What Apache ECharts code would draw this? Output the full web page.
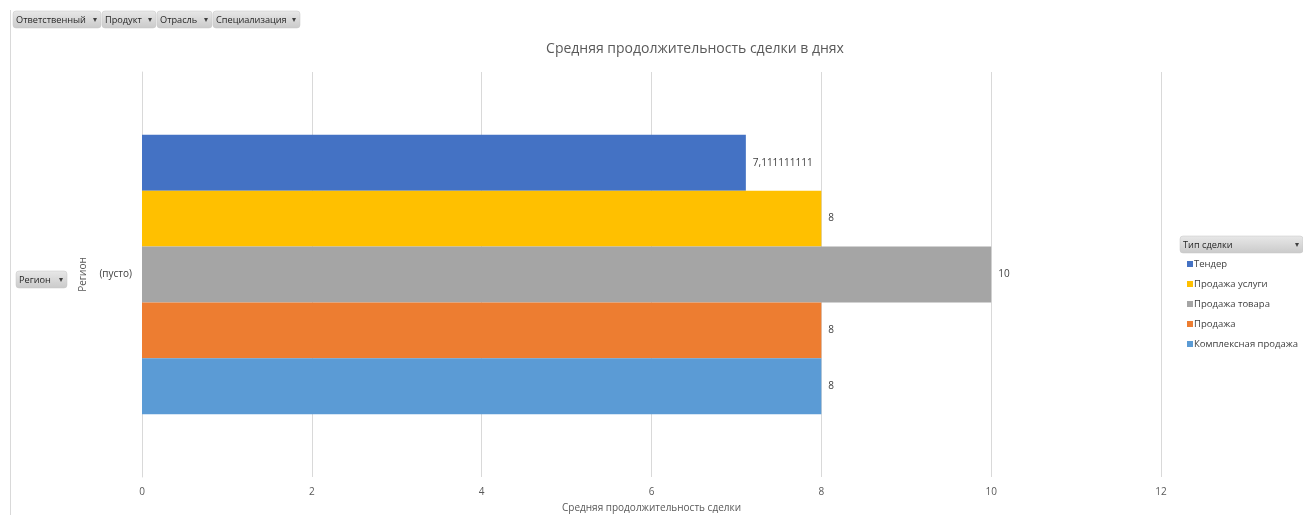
<!DOCTYPE html>
<html><head><meta charset="utf-8">
<script src="https://cdn.jsdelivr.net/npm/echarts@6/dist/echarts.min.js"></script>
<style>html,body{margin:0;padding:0;background:#fff;}#c{width:1303px;height:515px;}</style>
</head><body><div id="c"></div>
<script>
const categories = ['(пусто)'];
const seriesNames = ['Тендер', 'Продажа услуги', 'Продажа товара', 'Продажа', 'Комплексная продажа'];
const seriesValues = [[7.111111111], [8], [10], [8], [8]];
const seriesColors = ['#4472C4', '#FFC000', '#A5A5A5', '#ED7D31', '#5B9BD5'];
const xTicks = [0, 2, 4, 6, 8, 10, 12];
const filterButtons = ['Ответственный', 'Продукт', 'Отрасль', 'Специализация'];
const filterWidths = [88, 54, 55, 87];

const FONT = '"Open Sans", "DejaVu Sans", sans-serif';
const BFONT = '"Open Sans", sans-serif';
const chart = echarts.init(document.getElementById('c'), null, {renderer: 'canvas'});

function grad() {
  return new echarts.graphic.LinearGradient(0, 0, 0, 1, [{offset: 0, color: '#e8e8e8'}, {offset: 1, color: '#cacaca'}]);
}
function button(x, y, w, h, label) {
  return {
    type: 'group', x: x, y: y,
    children: [
      {type: 'rect', shape: {x: 0, y: 0, width: w, height: h, r: 3},
       style: {fill: grad(), stroke: '#c4c4c4', lineWidth: 0.5}},
      {type: 'text', x: 3, y: h / 2 + 0.5, style: {text: label, fontSize: 9.2, fontFamily: BFONT, fill: '#262626', verticalAlign: 'middle'}},
      {type: 'text', x: w - 6, y: h / 2 + 0.5, style: {text: '\u25BE', fontSize: 8, fontFamily: FONT, fill: '#404040', verticalAlign: 'middle', align: 'center'}}
    ]
  };
}

const graphics = [
  {type: 'line', shape: {x1: 10.5, y1: 10, x2: 10.5, y2: 515}, style: {stroke: '#d9d9d9', lineWidth: 1}}
];
let bx = 13;
filterButtons.forEach((t, i) => { graphics.push(button(bx, 11, filterWidths[i], 17, t)); bx += filterWidths[i] + 1; });
graphics.push(button(16, 271, 51, 17, 'Регион'));
graphics.push(button(1180, 236, 123, 17, 'Тип сделки'));

const option = {
  animation: false,
  backgroundColor: '#fff',
  title: {
    text: 'Средняя продолжительность сделки в днях',
    left: 690, top: 37, textAlign: 'center',
    textStyle: {fontSize: 14, fontWeight: 'normal', color: '#595959', fontFamily: FONT}
  },
  legend: {
    orient: 'vertical', left: 1182, top: 254,
    itemWidth: 6, itemHeight: 6, itemGap: 10, icon: 'rect',
    textStyle: {fontSize: 9.5, color: '#404040', fontFamily: FONT, padding: [0, 0, 0, -4]},
    data: seriesNames
  },
  grid: {left: 142, right: 142, top: 72, bottom: 38, containLabel: false, outerBoundsMode: 'none'},
  xAxis: {
    type: 'value', min: 0, max: 12, interval: 2,
    name: 'Средняя продолжительность сделки', nameLocation: 'middle', nameGap: 26,
    nameTextStyle: {fontSize: 10, color: '#595959', fontFamily: FONT},
    axisLine: {show: false}, axisTick: {show: false},
    axisLabel: {fontSize: 10, color: '#595959', fontFamily: FONT, margin: 10},
    splitLine: {lineStyle: {color: '#d9d9d9', width: 1}}
  },
  yAxis: {
    type: 'category', data: categories, inverse: true,
    name: 'Регион', nameLocation: 'middle', nameGap: 46, nameRotate: 90,
    nameTextStyle: {fontSize: 10, color: '#595959', fontFamily: FONT},
    axisLine: {lineStyle: {color: '#d9d9d9'}}, axisTick: {show: false},
    axisLabel: {fontSize: 10, color: '#404040', fontFamily: FONT, margin: 10}
  },
  series: seriesNames.map((n, i) => ({
    name: n, type: 'bar', data: seriesValues[i],
    barGap: '0%', barCategoryGap: '31%',
    itemStyle: {color: seriesColors[i]},
    label: {
      show: true, position: 'right', distance: 7, fontSize: 10, color: '#404040', fontFamily: FONT,
      formatter: p => String(p.value).replace('.', ',')
    }
  })),
  graphic: graphics
};
chart.setOption(option);
</script></body></html>
